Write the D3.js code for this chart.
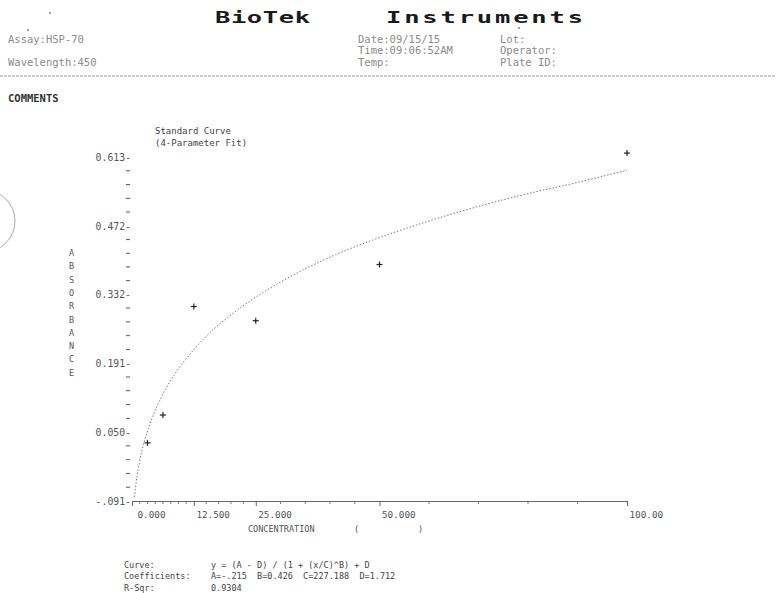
<!DOCTYPE html>
<html><head><meta charset="utf-8">
<script src="https://cdn.jsdelivr.net/npm/d3@7"></script>
<style>
body{margin:0;background:#fff;}
svg{display:block;}
text{font-family:"DejaVu Sans Mono","Liberation Mono",monospace;}
</style></head>
<body>
<script>
// ---- data ----
const stdConc = [3.125, 6.25, 12.5, 25, 50, 100];
const stdAbs = [0.028, 0.085, 0.307, 0.278, 0.393, 0.621];
const curveConc = [0.5, 0.75, 1, 1.5, 2, 3, 4, 6, 8, 10, 12.5, 15, 20, 25, 30, 40, 50, 60, 70, 80, 90, 100];
const curveAbs = [-0.083, -0.060, -0.041, -0.012, 0.012, 0.048, 0.077, 0.123, 0.159, 0.188, 0.219, 0.246, 0.290, 0.326, 0.357, 0.408, 0.448, 0.482, 0.512, 0.538, 0.561, 0.586];
const yTickValues = [-0.091, 0.050, 0.191, 0.332, 0.472, 0.613];
const yTickLabels = ["-.091", "0.050", "0.191", "0.332", "0.472", "0.613"];
const xTickValues = [0, 12.5, 25, 50, 100];
const xTickLabels = ["0.000", "12.500", "25.000", "50.000", "100.00"];
const xMinorTicks = [1.5625, 3.125, 4.6875, 6.25, 7.8125, 9.375, 10.9375, 15, 17.5, 20, 22.5, 30, 35, 40, 45, 60, 70, 80, 90];
const yAxisLetters = ["A","B","S","O","R","B","A","N","C","E"];
const headerLeft = ["Assay:HSP-70", "", "Wavelength:450"];
const headerMid = ["Date:09/15/15", "Time:09:06:52AM", "Temp:"];
const headerRight = ["Lot:", "Operator:", "Plate ID:"];
const footerLabels = ["Curve:", "Coefficients:", "R-Sqr:"];
const footerValues = ["y = (A - D) / (1 + (x/C)^B) + D", "A=-.215  B=0.426  C=227.188  D=1.712", "0.9304"];

const W = 776, H = 593;
const svg = d3.select("body").append("svg").attr("width", W).attr("height", H);

// hole punch arc
svg.append("circle").attr("cx", -16).attr("cy", 221).attr("r", 31)
  .attr("fill", "none").attr("stroke", "#aaa").attr("stroke-width", 1);

// stray printer specks
[[50, 13], [28, 30], [519, 28]].forEach(p => svg.append("circle").attr("cx", p[0]).attr("cy", p[1]).attr("r", 0.9).attr("fill", "#777"));

// header title (wide bold printer font)
const sx = 1.7;
const titleG = svg.append("g").attr("transform", `scale(${sx},1)`).attr("font-size", 15).attr("font-weight", "bold").attr("fill", "#1a1a1a");
titleG.append("text").attr("x", 215 / sx).attr("y", 23).attr("textLength", 95 / sx).attr("lengthAdjust", "spacing").text("BioTek");
titleG.append("text").attr("x", 386 / sx).attr("y", 23).attr("textLength", 197 / sx).attr("lengthAdjust", "spacing").text("Instruments");

const hdrY = [43, 54, 66];
const hdrG = svg.append("g").attr("font-size", 10.5).attr("fill", "#8a8a8a");
headerLeft.forEach((t, i) => { if (t) hdrG.append("text").attr("x", 8).attr("y", hdrY[i]).text(t); });
headerMid.forEach((t, i) => hdrG.append("text").attr("x", 358).attr("y", hdrY[i]).text(t));
headerRight.forEach((t, i) => hdrG.append("text").attr("x", 500).attr("y", hdrY[i]).text(t));

svg.append("line").attr("x1", 0).attr("x2", W).attr("y1", 76).attr("y2", 76)
  .attr("stroke", "#999").attr("stroke-width", 1).attr("stroke-dasharray", "3,1");

svg.append("text").attr("x", 8).attr("y", 102).attr("font-size", 10.5).attr("font-weight", "bold")
  .attr("fill", "#333").text("COMMENTS");

// chart title
const tG = svg.append("g").attr("font-size", 9).attr("fill", "#444");
tG.append("text").attr("x", 155).attr("y", 134).text("Standard Curve");
tG.append("text").attr("x", 155).attr("y", 146).text("(4-Parameter Fit)");

// scales
const x = d3.scaleLinear().domain([0, 100]).range([132, 627]);
const y = d3.scaleLinear().domain([-0.091, 0.613]).range([501, 157]);

// y axis (no domain line), dash ticks
const yAxis = d3.axisLeft(y).tickValues(yTickValues)
  .tickFormat((d, i) => yTickLabels[i] + "-").tickSize(0).tickPadding(0);
const yG = svg.append("g").attr("transform", "translate(131,0)").call(yAxis);
yG.select(".domain").remove();
yG.selectAll("text").attr("font-family", "DejaVu Sans Mono, monospace").attr("font-size", 9.8).attr("fill", "#555");

// y minor dash ticks
const yMinor = [];
for (let i = 0; i < yTickValues.length - 1; i++) {
  for (let k = 1; k < 5; k++) yMinor.push(yTickValues[i] + (yTickValues[i + 1] - yTickValues[i]) * k / 5);
}
svg.append("g").selectAll("line").data(yMinor).join("line")
  .attr("x1", 126).attr("x2", 130).attr("y1", d => y(d)).attr("y2", d => y(d))
  .attr("stroke", "#555").attr("stroke-width", 1);

// y axis title letters
svg.append("g").attr("font-size", 8.5).attr("fill", "#555").selectAll("text").data(yAxisLetters).join("text")
  .attr("x", 69).attr("y", (d, i) => 256 + i * 13.3).text(d => d);

// x axis
const xAxis = d3.axisBottom(x).tickValues(xTickValues).tickFormat((d, i) => xTickLabels[i]).tickSize(5).tickSizeOuter(0).tickPadding(5);
const xG = svg.append("g").attr("transform", "translate(0,501)").call(xAxis);
xG.select(".domain").attr("stroke", "#666");
xG.selectAll(".tick line").attr("stroke", "#666");
xG.selectAll("text").attr("font-family", "DejaVu Sans Mono, monospace").attr("font-size", 9.3)
  .attr("fill", "#555").attr("text-anchor", "start").attr("dx", (d, i) => i === 0 ? 5 : 2);
svg.append("g").selectAll("line").data(xMinorTicks).join("line")
  .attr("x1", d => x(d)).attr("x2", d => x(d)).attr("y1", 501).attr("y2", 504)
  .attr("stroke", "#777").attr("stroke-width", 1);

const cG = svg.append("g").attr("font-size", 8.5).attr("fill", "#555");
cG.append("text").attr("x", 248).attr("y", 532).text("CONCENTRATION");
cG.append("text").attr("x", 354).attr("y", 532).text("(");
cG.append("text").attr("x", 418).attr("y", 532).text(")");

// fitted curve (dotted)
const line = d3.line().x(d => x(d[0])).y(d => y(d[1])).curve(d3.curveMonotoneX);
svg.append("path").datum(curveConc.map((c, i) => [c, curveAbs[i]]))
  .attr("d", line).attr("fill", "none").attr("stroke", "#777").attr("stroke-width", 1)
  .attr("stroke-dasharray", "1.5,1.8");

// standard points as '+'
const pts = svg.append("g").selectAll("g").data(stdConc.map((c, i) => [c, stdAbs[i]])).join("g")
  .attr("transform", d => `translate(${x(d[0])},${y(d[1])})`);
pts.append("line").attr("x1", -3).attr("x2", 3).attr("stroke", "#222").attr("stroke-width", 1.2);
pts.append("line").attr("y1", -3).attr("y2", 3).attr("stroke", "#222").attr("stroke-width", 1.2);

// footer
const fY = [568, 579, 591];
const fG = svg.append("g").attr("font-size", 8.5).attr("fill", "#444");
footerLabels.forEach((t, i) => fG.append("text").attr("x", 124).attr("y", fY[i]).text(t));
footerValues.forEach((t, i) => fG.append("text").attr("x", 211).attr("y", fY[i]).attr("xml:space", "preserve").text(t));
</script>
</body></html>
